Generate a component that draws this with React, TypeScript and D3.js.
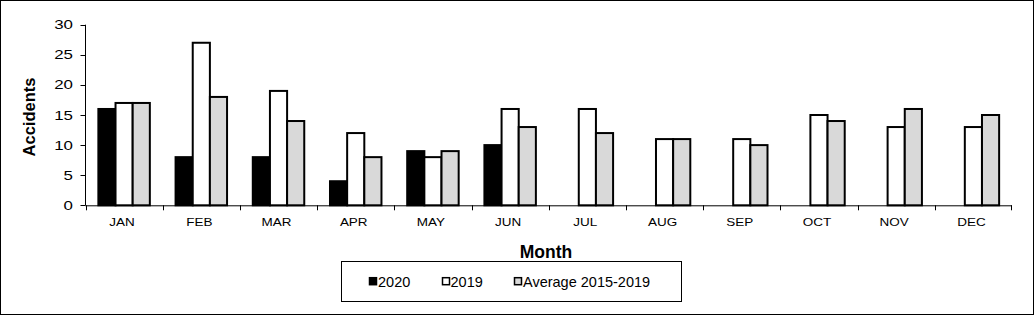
import * as d3 from 'd3';

const months = ['JAN', 'FEB', 'MAR', 'APR', 'MAY', 'JUN', 'JUL', 'AUG', 'SEP', 'OCT', 'NOV', 'DEC'];
const values2020: (number | null)[] = [16, 8, 8, 4, 9, 10, null, null, null, null, null, null];
const values2019 = [17, 27, 19, 12, 8, 16, 16, 11, 11, 15, 13, 13];
const valuesAvg = [17, 18, 14, 8, 9, 13, 12, 11, 10, 14, 16, 15];
const seriesNames = ['2020', '2019', 'Average 2015-2019'];
const seriesFills = ['#000000', '#ffffff', '#d9d9d9'];
const yTicks = [0, 5, 10, 15, 20, 25, 30];

const W = 1035;
const H = 316;
const left = 85.5;
const right = 1012;
const top = 24.7;
const bottom = 205.3;
const font = 'Arial, "Liberation Sans", sans-serif';

export default function App() {
  const x = d3.scaleBand<string>().domain(months).range([left, right]).padding(0);
  const band = x.bandwidth();
  const barW = band / 4.5;
  const x1 = d3.scaleBand<string>().domain(seriesNames).range([0.75 * barW, 3.75 * barW]).padding(0);
  const y = d3.scaleLinear().domain([0, 30]).range([bottom, top]);

  const series = [values2020, values2019, valuesAvg];

  // legend layout
  const legendItems = [
    { sq: 369, tx: 378 },
    { sq: 442, tx: 450.5 },
    { sq: 514, tx: 523 },
  ];
  const legendY = 281.7;

  return (
    <>
      <style>{`body{margin:0}`}</style>
      <svg width={W} height={H} style={{ display: 'block', background: '#fff' }}>
        <rect x={0.5} y={0.5} width={1033} height={314} fill="#fff" stroke="#000" strokeWidth={1} />

        {/* bars */}
        {series.map((vals, si) =>
          vals.map((v, i) =>
            v == null ? null : (
              <rect
                key={`${si}-${i}`}
                x={(x(months[i]) as number) + (x1(seriesNames[si]) as number)}
                y={y(v)}
                width={x1.bandwidth()}
                height={y(0) - y(v)}
                fill={seriesFills[si]}
                stroke="#000"
                strokeWidth={2}
              />
            )
          )
        )}

        {/* y axis */}
        <line x1={left} x2={left} y1={top} y2={bottom} stroke="#000" strokeWidth={1} />
        {yTicks.map((t) => (
          <g key={t}>
            <line x1={left - 5} x2={left} y1={Math.round(y(t)) + 0.5} y2={Math.round(y(t)) + 0.5} stroke="#000" />
            <text
              transform={`translate(73,${y(t) + 4.5}) scale(1.35,1)`}
              textAnchor="end"
              fontFamily={font}
              fontSize={12.5}
              fill="#000"
            >
              {t}
            </text>
          </g>
        ))}

        {/* x axis */}
        <line x1={left} x2={right} y1={bottom + 0.5} y2={bottom + 0.5} stroke="#000" strokeWidth={1} />
        {months.map((m) => (
          <line
            key={`t-${m}`}
            x1={Math.round(x(m) as number) + 0.5}
            x2={Math.round(x(m) as number) + 0.5}
            y1={bottom}
            y2={bottom + 5}
            stroke="#000"
          />
        ))}
        <line x1={right - 0.5} x2={right - 0.5} y1={bottom} y2={bottom + 5} stroke="#000" />
        {months.map((m) => (
          <text
            key={`l-${m}`}
            transform={`translate(${(x(m) as number) + band / 2 - 2},225.5) scale(1.35,1)`}
            textAnchor="middle"
            fontFamily={font}
            fontSize={10}
            fill="#000"
          >
            {m}
          </text>
        ))}

        {/* axis titles */}
        <text
          transform={`translate(34.5,${(top + bottom) / 2 + 2}) rotate(-90)`}
          textAnchor="middle"
          fontFamily={font}
          fontSize={16.5}
          fontWeight="bold"
          fill="#000"
        >
          Accidents
        </text>
        <text x={546} y={258} textAnchor="middle" fontFamily={font} fontSize={17.5} fontWeight="bold" fill="#000">
          Month
        </text>

        {/* legend */}
        <rect x={341.5} y={261.5} width={340} height={40} fill="#fff" stroke="#000" strokeWidth={1} />
        {seriesNames.map((name, i) => (
          <g key={name}>
            <rect
              x={legendItems[i].sq + 0.5}
              y={legendY - 4}
              width={7}
              height={7}
              fill={seriesFills[i]}
              stroke="#000"
              strokeWidth={1.5}
            />
            <text x={legendItems[i].tx} y={legendY + 5} fontFamily={font} fontSize={14.5} fill="#000">
              {name}
            </text>
          </g>
        ))}
      </svg>
    </>
  );
}
